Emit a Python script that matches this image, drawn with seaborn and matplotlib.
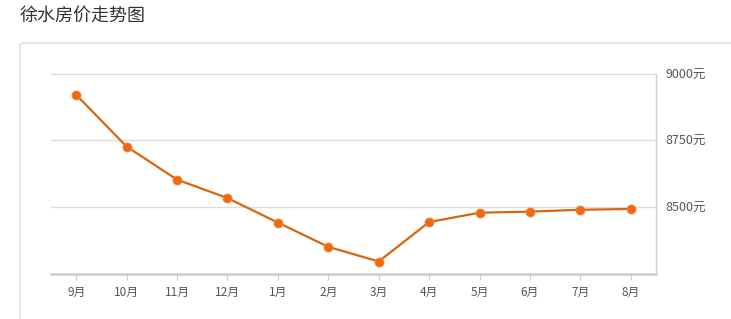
import matplotlib
matplotlib.use("Agg")
import matplotlib.pyplot as plt
import seaborn as sns
import pandas as pd
from matplotlib.patches import FancyBboxPatch

months = ["9月", "10月", "11月", "12月", "1月", "2月", "3月", "4月", "5月", "6月", "7月", "8月"]
prices = [8920, 8726, 8602, 8533, 8441, 8350, 8295, 8443, 8478, 8482, 8489, 8492]
y_ticks = [8500, 8750, 9000]
y_tick_labels = ["8500元", "8750元", "9000元"]
title = "徐水房价走势图"

sns.set_theme(style="white")
plt.rcParams['font.family'] = ['Noto Sans CJK SC', 'DejaVu Sans']

df = pd.DataFrame({"month": months, "price": prices, "idx": range(len(months))})

fig = plt.figure(figsize=(7.31, 3.19), dpi=100)
fig.patch.set_facecolor("white")

# outer panel border
panel = FancyBboxPatch((20 / 731, -0.1), 1.1, 1 - 43 / 319 + 0.1,
                       boxstyle="round,pad=0,rounding_size=0.006",
                       transform=fig.transFigure, facecolor="none",
                       edgecolor="#dcdcdc", linewidth=1.0, zorder=-10)
fig.patches.append(panel)

fig.text(20 / 731, 1 - 16 / 319, title, fontsize=13, color="#333333",
         va="center", ha="left")

ax = fig.add_axes([51 / 731, 1 - 273.5 / 319, (656 - 51) / 731, (273.5 - 73.5) / 319])
ax.set_facecolor("none")
ax.set_zorder(5)

sns.lineplot(data=df, x="idx", y="price", ax=ax, color="#D8650F", linewidth=1.6,
             marker="o", markersize=6.5, markerfacecolor="#EE6A12",
             markeredgecolor="#F28A3C", markeredgewidth=0.6, zorder=3)

ax.set_xlim(-0.5, len(months) - 0.5)
ax.set_ylim(8250, 9000)
ax.set_xticks(range(len(months)))
ax.set_xticklabels(months, fontsize=8.5, color="#555555")
ax.set_yticks(y_ticks)
ax.set_yticklabels(y_tick_labels, fontsize=9, color="#555555")
ax.yaxis.tick_right()
ax.tick_params(axis="y", length=0, pad=7)
ax.tick_params(axis="x", length=4, width=0.8, color="#cccccc", pad=5, bottom=True)
ax.set_xlabel("")
ax.set_ylabel("")

for y in [8500, 8750, 9000]:
    ax.axhline(y, color="#dddddd", linewidth=1.0, zorder=1)

for s in ["top", "left"]:
    ax.spines[s].set_visible(False)
ax.spines["right"].set_color("#d0d0d0")
ax.spines["right"].set_linewidth(1.0)
ax.spines["bottom"].set_color("#cccccc")
ax.spines["bottom"].set_linewidth(1.8)

fig.savefig("out.png", dpi=100, facecolor="white")
